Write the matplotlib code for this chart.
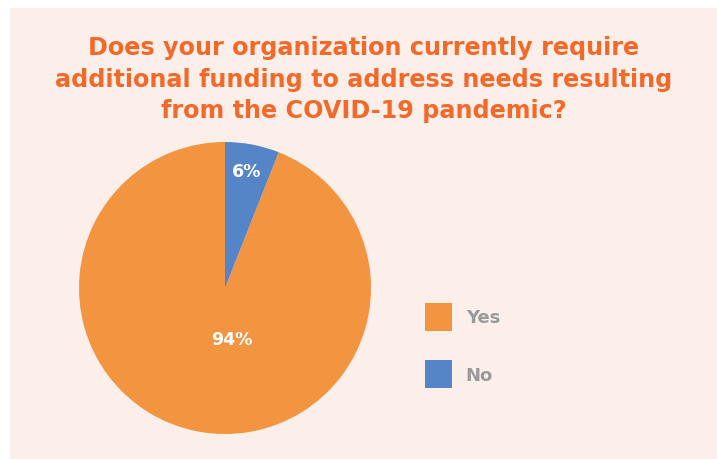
import numpy as np
import matplotlib.pyplot as plt
from matplotlib.patches import Rectangle

plt.rcParams['font.family'] = ['DejaVu Sans']

title = "Does your organization currently require\nadditional funding to address needs resulting\nfrom the COVID-19 pandemic?"
labels = ["Yes", "No"]
shares = [94, 6]
colors = ["#F39441", "#5585C6"]

bg = "#FCEFEA"
W, H = 717, 460

fig = plt.figure(figsize=(W / 100, H / 100), dpi=100, facecolor="white")

# tinted panel behind everything, white strip on top and left
fig.patches.append(Rectangle((10 / W, 0), 1 - 10 / W, 1 - 9 / H,
                             transform=fig.transFigure, facecolor=bg,
                             edgecolor="none", zorder=-5))

fig.text(0.507, 1 - 36 / H, title, ha="center", va="top", fontsize=17.2,
         fontweight="bold", color="#F2692A", linespacing=1.4)

ax = fig.add_axes([79 / W, 25 / H, 292 / W, 292 / H])
ax.set_facecolor("none")
ax.set_zorder(2)
start = 90 - 360 * shares[1] / sum(shares)
wedges, _ = ax.pie(shares, colors=colors, startangle=start, counterclock=False,
                   radius=1, wedgeprops=dict(linewidth=0))
ax.set_xlim(-1, 1)
ax.set_ylim(-1, 1)
ax.axis("off")

# percentage labels inside the slices
label_pos = [(0.045, -0.35), (0.145, 0.80)]
for val, (x, y) in zip(shares, label_pos):
    ax.text(x, y, f"{val}%", ha="center", va="center", color="white",
            fontsize=12.5, fontweight="bold")

leg = fig.legend(wedges, labels, loc="center left",
                 bbox_to_anchor=(425 / W, 1 - 346.5 / H), frameon=False,
                 fontsize=13, handlelength=1.5, handleheight=2.0,
                 handletextpad=0.75, labelspacing=1.65, borderpad=0,
                 borderaxespad=0)
for t in leg.get_texts():
    t.set_color("#9A9A9A")
    t.set_fontweight("bold")

fig.savefig("out.png", dpi=100, facecolor=fig.get_facecolor())
